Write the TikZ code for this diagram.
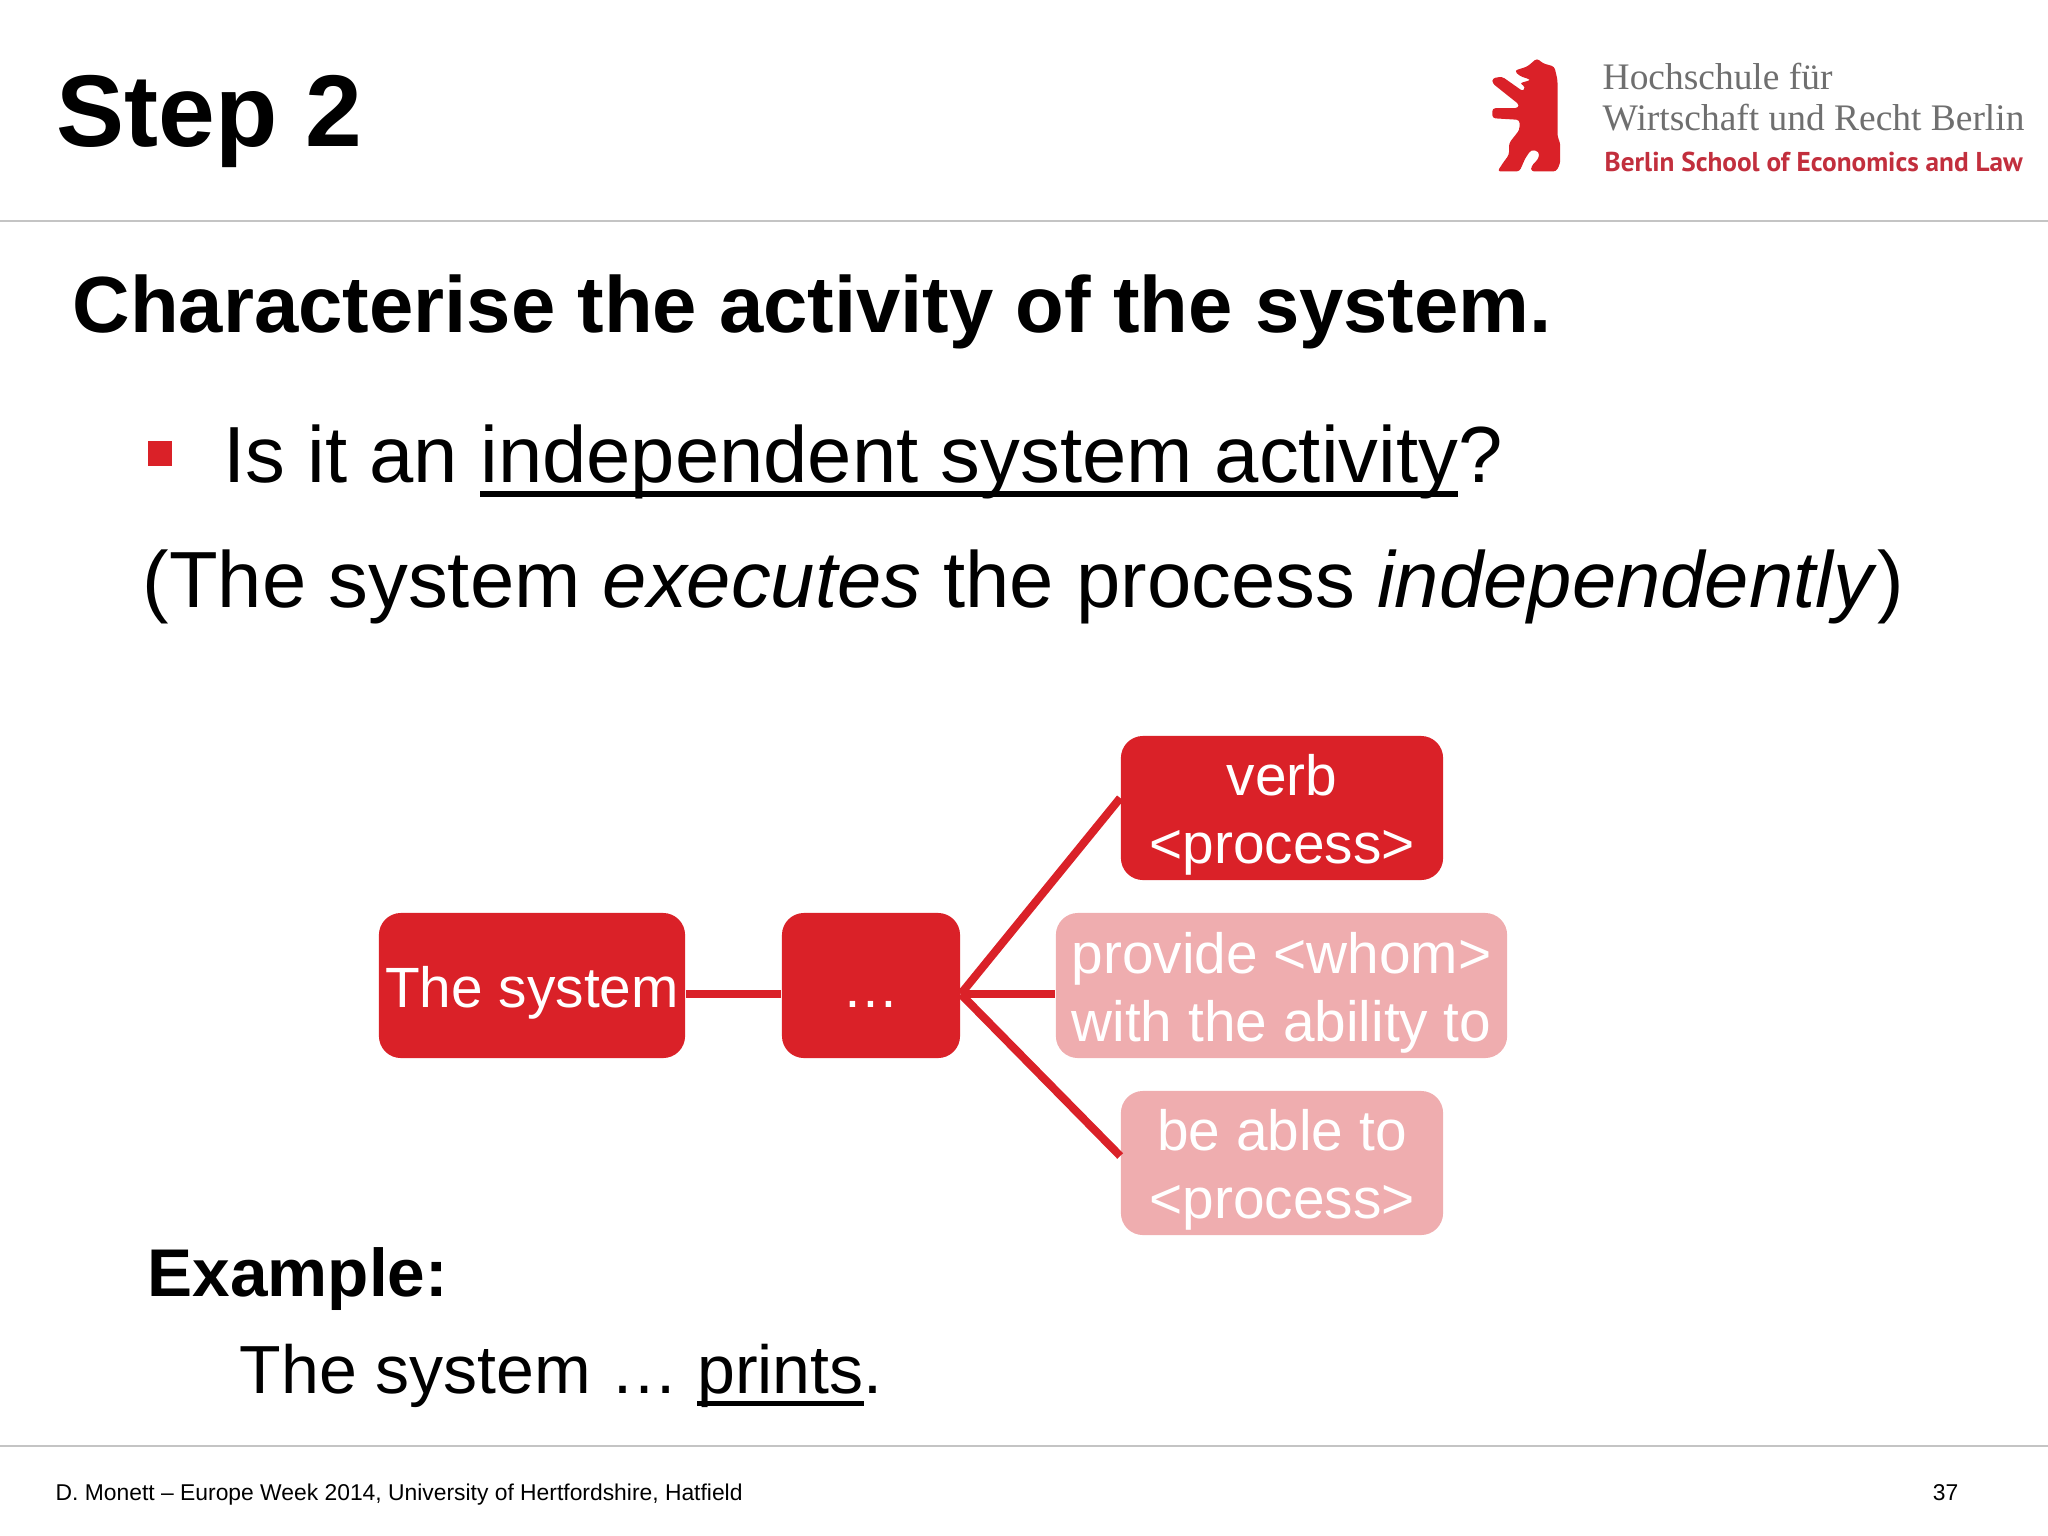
\documentclass[tikz,border=0pt]{standalone}
\usepackage{fontspec}
\setmainfont{Liberation Sans}
\newfontfamily\logoserif{Liberation Serif}
\newfontfamily\logosans{PT Sans}
\definecolor{hwrred}{HTML}{DA2128}
\definecolor{hwrpink}{HTML}{EFADAF}
\definecolor{hwrgrey}{HTML}{6F6F6F}
\definecolor{hwrclaim}{HTML}{C22F3D}
\definecolor{rulegrey}{HTML}{C4C4C4}
\newsavebox{\ulbox}
\newcommand{\ulword}[1]{\sbox{\ulbox}{#1}\rlap{\rule[-.185em]{\wd\ulbox}{.075em}}\usebox{\ulbox}}
\newcommand{\boxlines}[1]{\raisebox{-6.6pt}[0pt][0pt]{\begin{tabular}{@{}c@{}}#1\end{tabular}}}
\tikzset{
  txt/.style={anchor=base west,inner sep=0pt,text=black},
  logotxt/.style={anchor=base west,inner sep=0pt},
  boxtxt/.style={rounded corners=2.2mm,text=white,inner sep=0pt,
    font=\fontsize{16.15}{19.4}\selectfont},
  redbox/.style={boxtxt,fill=hwrred},
  pinkbox/.style={boxtxt,fill=hwrpink},
  link/.style={draw=hwrred,line width=2.3pt},
}
\begin{document}
\begin{tikzpicture}[x=0.01cm,y=-0.01cm]
  \useasboundingbox (0,0) rectangle (2048,1536);
  \draw[rulegrey,line width=0.6pt] (0,221) -- (2048,221);
  \draw[rulegrey,line width=0.6pt] (0,1446) -- (2048,1446);
  % header
  \draw
    (56,146) node[txt,font=\bfseries\fontsize{29}{34}\selectfont] (title){Step 2}
    (1602,89) node[logotxt,text=hwrgrey,font=\logoserif\fontsize{10.65}{13}\selectfont] (logoa){Hochschule für}
    (1602,130) node[logotxt,text=hwrgrey,font=\logoserif\fontsize{10.65}{13}\selectfont] (logob){Wirtschaft und Recht Berlin}
    (1604,171) node[logotxt,text=hwrclaim,font=\logosans\bfseries\fontsize{7.75}{10}\selectfont] (logoc){Berlin School of Economics and Law};
  % bear
  \begin{scope}[shift={(1440,30)},x=0.003878cm,y=-0.003333cm]
    \fill[hwrred,rounded corners=0.3mm] (192,122) -- (225,110) -- (250,85) -- (265,100) -- (295,110) -- (303,150)
      -- (303,320) -- (310,340) -- (310,400) -- (300,425) -- (235,425) -- (235,410)
      -- (255,385) -- (255,365) -- (235,360) -- (220,385) -- (205,425) -- (148,425)
      -- (165,395) -- (178,375) -- (178,340) -- (205,300) -- (205,270) -- (135,265)
      -- (135,235) -- (200,235) -- (205,225) -- (135,160) -- (135,145) -- (160,140)
      -- (215,185) -- (220,170) -- (205,160) -- (235,150) -- (205,138) -- cycle;
  \end{scope}
  % body text
  \draw
    (72,332) node[txt,font=\bfseries\fontsize{22.66}{27}\selectfont] (head){Characterise the activity of the system.}
    (223,482) node[txt,font=\fontsize{22.64}{27}\selectfont] (bullet){Is it an \ulword{independent system activity}?}
    (142,607) node[txt,font=\fontsize{22.64}{27}\selectfont] (paren){(The system \textit{executes} the process \textit{independently})}
    (147,1296) node[txt,font=\bfseries\fontsize{19.2}{23}\selectfont] (example){Example:}
    (239,1393) node[txt,font=\fontsize{19.35}{23}\selectfont] (prints){The system … \ulword{prints}.}
    (55,1500) node[txt,font=\fontsize{6.5}{8}\selectfont] (foot){D. Monett – Europe Week 2014, University of Hertfordshire, Hatfield}
    (1959,1500) node[txt,anchor=base east,font=\fontsize{6.5}{8}\selectfont] (page){37};
  \fill[hwrred] (148,441) rectangle (172,466);
  % diagram
  \draw
    (532,985.5) node[redbox,minimum width=3.06cm,minimum height=1.45cm] (system){\boxlines{The system}}
    (871,985.5) node[redbox,minimum width=1.78cm,minimum height=1.45cm] (dots){\boxlines{…}}
    (1282,808) node[redbox,minimum width=3.22cm,minimum height=1.44cm] (verb){\boxlines{verb\\<process>}}
    (1281.5,985.5) node[pinkbox,minimum width=4.51cm,minimum height=1.45cm] (provide){\boxlines{provide <whom>\\with the ability to}}
    (1282,1163) node[pinkbox,minimum width=3.22cm,minimum height=1.44cm] (able){\boxlines{be able to\\<process>}};
  \begin{scope}[link]
    \draw ([yshift=-0.085cm]system.east) to ([yshift=-0.085cm]dots.west);
    \draw ([yshift=-0.085cm]dots.east) to ([yshift=-0.085cm]provide.west);
    \draw ([yshift=-0.085cm]dots.east) to ([yshift=0.1cm]verb.west);
    \draw ([yshift=-0.085cm]dots.east) to ([yshift=0.07cm]able.west);
  \end{scope}
\end{tikzpicture}
\end{document}
